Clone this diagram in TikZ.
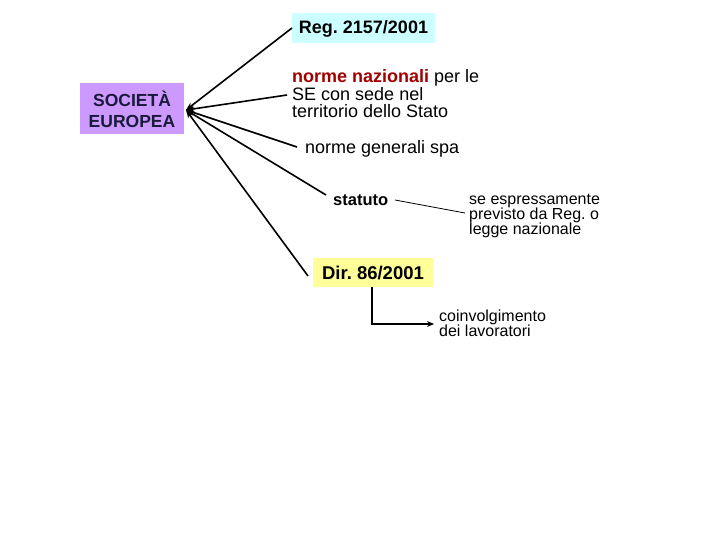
\documentclass[tikz,border=0pt]{standalone}
\usepackage{fontspec}
\setmainfont{Liberation Sans}
\usetikzlibrary{arrows.meta}
\definecolor{seviolet}{HTML}{CC99FF}
\definecolor{regcyan}{HTML}{CCFFFF}
\definecolor{diryellow}{HTML}{FFFF99}
\definecolor{nazred}{HTML}{A00000}
\definecolor{setext}{HTML}{1A1A3A}
\begin{document}
\frenchspacing
\begin{tikzpicture}[x=1pt,y=-1pt,
  mainline/.style={line width=1.6pt,-{Stealth[length=8pt,width=6pt]}},
  boxnode/.style={inner sep=0pt,font=\fontsize{18}{20}\selectfont\bfseries},
  plain/.style={inner sep=0pt,align=left,font=\fontsize{18}{17.5}\selectfont},
  small/.style={inner sep=0pt,align=left,font=\fontsize{16}{15}\selectfont}]
\useasboundingbox (0,0) rectangle (720,540);
\node[boxnode,fill=seviolet,minimum width=104pt,minimum height=51pt,align=center,text=setext,font=\fontsize{17.5}{21}\selectfont\bfseries] (se) at (132,109) {SOCIETÀ\\EUROPEA};
\coordinate (hub) at (186,110);
\node[boxnode,fill=regcyan,minimum width=143pt,minimum height=30pt] (reg) at (363.5,28.5) {Reg. 2157/2001};
\node[plain,anchor=west] (naz) at (292,94) {\textcolor{nazred}{\bfseries norme nazionali} per le\\SE con sede nel\\territorio dello Stato};
\node[plain,anchor=west] (gen) at (305,149) {norme generali spa};
\node[plain,anchor=west,font=\fontsize{16.5}{17.5}\selectfont\bfseries] (stat) at (333,200) {statuto};
\node[small,anchor=west] (prev) at (469,216) {se espressamente\\previsto da Reg. o\\legge nazionale};
\node[boxnode,fill=diryellow,minimum width=120pt,minimum height=29pt,font=\fontsize{18.5}{20}\selectfont\bfseries] (dir) at (373,272.5) {Dir. 86/2001};
\node[small,anchor=west] (coin) at (439,323) {coinvolgimento\\dei lavoratori};
\coordinate (regend) at (292,28);
\coordinate (nazend) at (287,95);
\coordinate (genend) at (297,147);
\coordinate (statend) at (326,195);
\coordinate (dirend) at (308,276);
\draw[mainline] (regend) -- (hub);
\draw[mainline] (nazend) -- (hub);
\draw[mainline] (genend) -- (hub);
\draw[mainline] (statend) -- (hub);
\draw[mainline] (dirend) -- (hub);
\coordinate (s1) at (395,200);
\coordinate (s2) at (465,213);
\draw[line width=0.8pt] (s1) -- (s2);
\coordinate (corner) at (372,324);
\coordinate (coinend) at (434,324);
\draw[line width=1.6pt,-{Stealth[length=7pt,width=6pt]}] (dir.south -| corner) -- (corner) -- (coinend);
\end{tikzpicture}
\end{document}
